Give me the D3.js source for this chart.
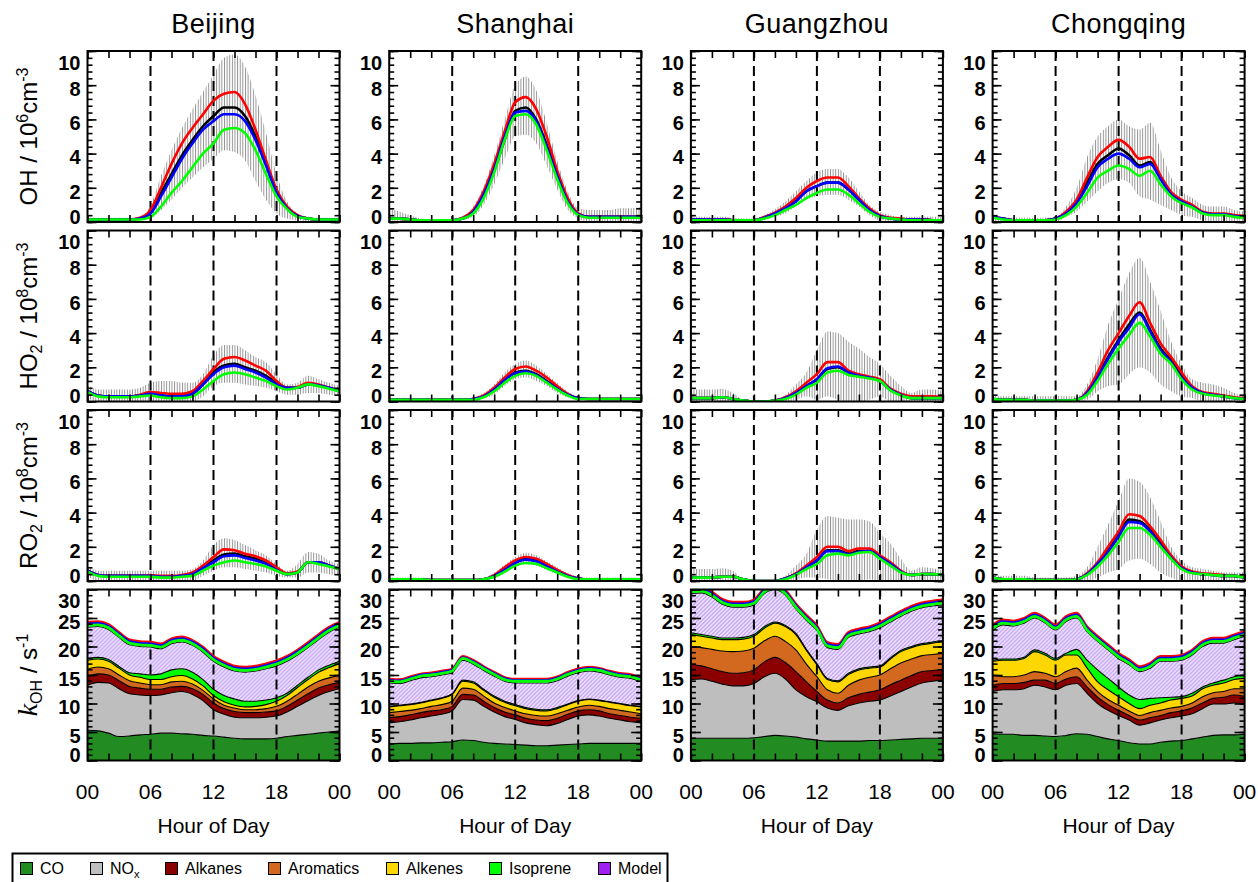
<!DOCTYPE html>
<html>
<head>
<meta charset="utf-8">
<script src="https://cdn.jsdelivr.net/npm/d3@7"></script>
<style>
  body { margin: 0; background: #fff; }
  svg { display: block; font-family: "Liberation Sans", Arial, Helvetica, sans-serif; }
</style>
</head>
<body>
<svg id="chart" width="1258" height="882"></svg>
<script>
// ---- data (city order: Beijing, Shanghai, Guangzhou, Chongqing) ----
const cities = ["Beijing", "Shanghai", "Guangzhou", "Chongqing"];
const hours = [0,1,2,3,4,5,6,7,8,9,10,11,12,13,14,15,16,17,18,19,20,21,22,23,24];
const hourTicks = [0,6,12,18,24];
const hourLabels = ["00","06","12","18","00"];

// OH, 10^6 cm-3
const ohObs = [
  [0.15,0.15,0.15,0.15,0.15,0.2,0.6,1.7,2.8,3.9,4.8,5.6,6.2,6.7,6.7,6.2,5.0,3.4,1.8,0.8,0.35,0.2,0.15,0.15,0.15],
  [0.2,0.2,0.15,0.1,0.1,0.1,0.1,0.2,0.6,1.5,3.0,4.8,6.5,6.7,6.0,4.5,2.7,1.2,0.45,0.3,0.3,0.3,0.3,0.3,0.3],
  [0.15,0.15,0.15,0.15,0.1,0.1,0.1,0.25,0.5,0.8,1.3,1.8,2.1,2.3,2.3,1.9,1.3,0.7,0.35,0.2,0.15,0.15,0.15,0.1,0.1],
  [0.3,0.2,0.1,0.1,0.1,0.1,0.2,0.5,1.2,2.3,3.4,3.9,4.3,3.9,3.3,3.5,2.6,1.7,1.2,0.9,0.55,0.45,0.45,0.35,0.3]
];
const ohRed = [
  [0.15,0.15,0.15,0.15,0.15,0.25,0.7,2.0,3.4,4.6,5.5,6.3,7.1,7.5,7.6,6.9,5.4,3.6,1.9,0.9,0.4,0.2,0.15,0.15,0.15],
  [0.2,0.2,0.15,0.1,0.1,0.1,0.1,0.25,0.7,1.8,3.4,5.3,7.0,7.3,6.6,5.0,3.0,1.4,0.5,0.3,0.3,0.3,0.3,0.3,0.3],
  [0.15,0.15,0.15,0.15,0.1,0.1,0.1,0.3,0.55,0.9,1.4,2.0,2.4,2.6,2.6,2.1,1.4,0.8,0.4,0.25,0.2,0.15,0.15,0.1,0.1],
  [0.3,0.2,0.1,0.1,0.1,0.1,0.2,0.6,1.3,2.6,3.8,4.4,4.8,4.4,3.7,3.8,2.7,1.75,1.3,1.0,0.6,0.5,0.5,0.4,0.35]
];
const ohBlue = [
  [0.15,0.15,0.15,0.15,0.15,0.2,0.5,1.5,2.6,3.7,4.6,5.4,5.9,6.3,6.3,5.9,4.8,3.3,1.7,0.8,0.35,0.2,0.15,0.15,0.15],
  [0.2,0.2,0.15,0.1,0.1,0.1,0.1,0.2,0.6,1.6,3.1,5.0,6.4,6.5,5.9,4.4,2.7,1.2,0.45,0.3,0.3,0.3,0.3,0.3,0.3],
  [0.15,0.15,0.15,0.15,0.1,0.1,0.1,0.25,0.5,0.8,1.2,1.8,2.1,2.3,2.3,1.9,1.3,0.7,0.35,0.2,0.15,0.15,0.15,0.1,0.1],
  [0.3,0.2,0.1,0.1,0.1,0.1,0.2,0.5,1.1,2.1,3.2,3.7,4.0,3.7,3.2,3.4,2.5,1.6,1.2,0.9,0.55,0.45,0.45,0.35,0.3]
];
const ohGreen = [
  [0.15,0.15,0.15,0.15,0.15,0.15,0.3,0.9,1.7,2.4,3.2,4.0,4.6,5.4,5.5,5.2,4.2,2.8,1.5,0.75,0.3,0.2,0.15,0.15,0.15],
  [0.2,0.2,0.15,0.1,0.1,0.1,0.1,0.2,0.5,1.4,2.9,4.8,6.2,6.3,5.7,4.2,2.5,1.1,0.4,0.25,0.25,0.25,0.25,0.25,0.25],
  [0.1,0.1,0.1,0.1,0.1,0.1,0.1,0.2,0.4,0.7,1.0,1.4,1.7,1.9,1.9,1.6,1.1,0.6,0.3,0.2,0.15,0.1,0.1,0.1,0.1],
  [0.25,0.15,0.1,0.1,0.1,0.1,0.15,0.4,0.9,1.7,2.6,3.0,3.3,3.1,2.7,3.0,2.2,1.5,1.1,0.85,0.5,0.4,0.4,0.3,0.25]
];
const ohLo = [
  [0.05,0.05,0.05,0.05,0.05,0.1,0.2,0.7,1.3,2.0,2.6,3.2,3.7,4.2,4.1,3.6,2.4,1.3,0.5,0.2,0.1,0.05,0.05,0.05,0.05],
  [0,0,0,0,0,0,0,0.1,0.3,1.0,2.2,3.7,5.0,5.1,4.6,3.3,1.9,0.7,0.2,0,0,0,0,0,0],
  [0,0,0,0,0,0,0,0.1,0.3,0.5,0.9,1.3,1.5,1.6,1.6,1.3,0.9,0.4,0.1,0.05,0,0,0,0,0],
  [0,0,0,0,0,0,0,0.3,0.6,1.2,1.8,2.3,2.5,2.3,1.5,1.3,1.0,0.7,0.4,0.3,0.1,0,0,0,0]
];
const ohHi = [
  [0.25,0.25,0.25,0.25,0.25,0.3,1.0,2.7,4.2,5.5,6.6,7.6,8.6,9.6,9.8,9.1,7.4,5.2,2.8,1.2,0.5,0.3,0.25,0.25,0.25],
  [0.8,0.6,0.4,0.2,0.15,0.15,0.15,0.3,0.9,2.1,3.9,6.0,8.0,8.5,7.7,5.8,3.6,1.8,0.8,0.7,0.7,0.7,0.8,0.8,0.9],
  [0.3,0.3,0.3,0.3,0.25,0.2,0.2,0.4,0.75,1.2,1.8,2.4,2.9,3.1,3.1,2.6,1.8,1.0,0.6,0.4,0.3,0.3,0.3,0.3,0.3],
  [0.4,0.25,0.25,0.25,0.25,0.25,0.3,0.9,2.0,3.8,5.0,5.6,6.0,5.6,5.4,5.8,4.2,2.6,1.8,1.4,1.0,0.9,0.9,0.7,0.6]
];

// HO2, 10^8 cm-3
const ho2Obs = [
  [0.6,0.35,0.3,0.3,0.3,0.35,0.45,0.35,0.3,0.3,0.45,1.0,1.7,2.1,2.2,2.0,1.8,1.5,1.1,0.8,0.8,1.0,0.95,0.8,0.6],
  [0.1,0.1,0.1,0.1,0.1,0.1,0.1,0.1,0.15,0.3,0.7,1.3,1.7,1.8,1.6,1.2,0.8,0.4,0.2,0.15,0.15,0.15,0.15,0.15,0.15],
  [0.2,0.2,0.2,0.25,0.15,0.05,0.0,0.0,0.05,0.2,0.5,0.9,1.3,1.9,2.0,1.7,1.5,1.4,1.2,0.7,0.4,0.2,0.2,0.2,0.2],
  [0.15,0.1,0.1,0.1,0.05,0.05,0.05,0.05,0.1,0.5,1.5,2.6,3.6,4.5,5.2,4.2,3.1,2.4,1.5,0.8,0.5,0.4,0.3,0.2,0.15]
];
const ho2Red = [
  [0.6,0.35,0.3,0.3,0.3,0.4,0.55,0.5,0.45,0.45,0.6,1.2,1.9,2.5,2.6,2.4,2.1,1.8,1.2,0.8,0.85,1.1,1.0,0.8,0.65],
  [0.1,0.1,0.1,0.1,0.1,0.1,0.1,0.1,0.15,0.35,0.8,1.4,1.9,2.05,1.8,1.4,0.9,0.45,0.2,0.15,0.15,0.15,0.15,0.15,0.15],
  [0.2,0.2,0.2,0.25,0.15,0.05,0.0,0.0,0.05,0.25,0.6,1.1,1.6,2.3,2.3,1.8,1.6,1.45,1.3,0.75,0.45,0.3,0.3,0.3,0.25],
  [0.15,0.1,0.1,0.1,0.05,0.05,0.05,0.05,0.1,0.6,1.7,3.0,4.0,5.0,5.8,4.6,3.4,2.6,1.7,0.9,0.55,0.45,0.35,0.25,0.2]
];
const ho2Blue = [
  [0.6,0.35,0.3,0.3,0.3,0.35,0.45,0.35,0.3,0.3,0.45,1.0,1.6,2.0,2.1,1.9,1.7,1.4,1.0,0.8,0.8,1.0,0.95,0.8,0.6],
  [0.1,0.1,0.1,0.1,0.1,0.1,0.1,0.1,0.15,0.3,0.7,1.25,1.65,1.75,1.55,1.15,0.75,0.4,0.2,0.15,0.15,0.15,0.15,0.15,0.15],
  [0.2,0.2,0.2,0.25,0.15,0.05,0.0,0.0,0.05,0.2,0.5,0.9,1.3,1.95,2.05,1.7,1.5,1.4,1.2,0.7,0.4,0.2,0.2,0.2,0.2],
  [0.15,0.1,0.1,0.1,0.05,0.05,0.05,0.05,0.1,0.5,1.4,2.5,3.5,4.3,5.1,4.1,3.0,2.3,1.4,0.8,0.5,0.4,0.3,0.2,0.15]
];
const ho2Green = [
  [0.55,0.3,0.25,0.25,0.25,0.3,0.35,0.25,0.2,0.2,0.3,0.7,1.2,1.6,1.7,1.6,1.4,1.2,0.9,0.7,0.8,1.0,0.9,0.75,0.6],
  [0.1,0.1,0.1,0.1,0.1,0.1,0.1,0.1,0.1,0.25,0.6,1.1,1.5,1.65,1.5,1.1,0.7,0.35,0.15,0.15,0.15,0.15,0.15,0.15,0.15],
  [0.2,0.2,0.2,0.25,0.15,0.05,0.0,0.0,0.05,0.15,0.4,0.8,1.1,1.7,1.8,1.55,1.45,1.35,1.2,0.65,0.35,0.2,0.2,0.2,0.2],
  [0.15,0.1,0.1,0.1,0.05,0.05,0.05,0.05,0.1,0.4,1.2,2.2,3.1,3.9,4.6,3.8,2.8,2.2,1.3,0.7,0.45,0.35,0.3,0.2,0.15]
];
const ho2Lo = [
  [0.2,0,0,0,0,0,0,0,0,0,0,0.3,0.9,1.1,1.1,1.0,0.9,0.8,0.6,0.4,0.4,0.5,0.5,0.4,0.3],
  [0.05,0.05,0.05,0.05,0.05,0.05,0.05,0.05,0.1,0.2,0.4,0.9,1.3,1.4,1.2,0.9,0.5,0.25,0.1,0.1,0.1,0.1,0.1,0.1,0.1],
  [0,0,0,0,0,0,0,0,0,0,0.1,0.3,0.1,0.3,0.1,0,0,0.1,0.3,0,0,0,0,0,0],
  [0,0,0,0,0,0,0,0,0,0.1,0.6,0.9,1.0,1.6,2.0,1.7,1.0,0.6,0.3,0.2,0,0,0,0,0]
];
const ho2Hi = [
  [1.0,0.7,0.7,0.7,0.7,0.8,1.1,1.2,1.2,1.1,1.1,1.6,2.7,3.3,3.3,3.0,2.6,2.3,1.6,1.0,1.1,1.5,1.3,1.1,0.9],
  [0.2,0.2,0.2,0.2,0.2,0.2,0.2,0.2,0.25,0.5,1.0,1.7,2.2,2.4,2.1,1.6,1.1,0.6,0.3,0.25,0.25,0.25,0.25,0.25,0.25],
  [0.7,0.7,0.7,0.75,0.5,0.1,0.05,0.05,0.05,0.4,1.0,1.7,3.0,4.1,4.0,3.5,3.1,2.6,2.2,1.5,0.9,0.5,0.7,0.7,0.6],
  [0.4,0.3,0.3,0.3,0.3,0.3,0.3,0.3,0.3,1.0,2.5,4.5,6.0,7.5,8.4,7.0,5.3,3.5,2.2,1.3,1.1,1.0,0.8,0.5,0.3]
];

// RO2, 10^8 cm-3
const ro2Obs = [
  [0.6,0.35,0.3,0.3,0.3,0.3,0.3,0.25,0.25,0.3,0.4,0.8,1.2,1.55,1.6,1.45,1.3,1.05,0.7,0.4,0.5,1.1,1.1,0.9,0.7],
  [0.1,0.1,0.1,0.1,0.05,0.05,0.05,0.05,0.05,0.1,0.3,0.7,1.1,1.3,1.2,0.9,0.6,0.3,0.15,0.1,0.1,0.1,0.1,0.1,0.1],
  [0.2,0.2,0.2,0.25,0.25,0.1,0.0,0.0,0.0,0.15,0.4,0.8,1.2,1.8,1.8,1.6,1.75,1.75,1.4,1.0,0.55,0.35,0.4,0.4,0.35],
  [0.2,0.1,0.1,0.1,0.05,0.05,0.05,0.05,0.1,0.4,1.0,1.8,2.7,3.6,3.5,3.0,2.2,1.4,0.8,0.5,0.4,0.35,0.3,0.3,0.2]
];
const ro2Red = [
  [0.6,0.35,0.3,0.3,0.3,0.3,0.35,0.3,0.3,0.35,0.5,0.9,1.4,1.85,1.8,1.6,1.45,1.2,0.8,0.45,0.55,1.1,1.1,0.9,0.7],
  [0.1,0.1,0.1,0.1,0.05,0.05,0.05,0.05,0.05,0.1,0.35,0.8,1.2,1.4,1.3,1.0,0.65,0.35,0.15,0.1,0.1,0.1,0.1,0.1,0.1],
  [0.2,0.2,0.2,0.25,0.25,0.1,0.0,0.0,0.0,0.15,0.45,0.9,1.4,2.0,2.0,1.75,1.9,1.9,1.5,1.1,0.6,0.35,0.4,0.4,0.35],
  [0.2,0.1,0.1,0.1,0.05,0.05,0.05,0.05,0.1,0.45,1.1,2.0,2.9,3.9,3.8,3.2,2.4,1.5,0.85,0.55,0.45,0.4,0.35,0.3,0.25]
];
const ro2Blue = [
  [0.6,0.35,0.3,0.3,0.3,0.3,0.3,0.25,0.25,0.3,0.4,0.75,1.1,1.45,1.5,1.35,1.2,1.0,0.65,0.4,0.5,1.1,1.1,0.9,0.7],
  [0.1,0.1,0.1,0.1,0.05,0.05,0.05,0.05,0.05,0.1,0.3,0.65,1.05,1.25,1.15,0.85,0.55,0.3,0.15,0.1,0.1,0.1,0.1,0.1,0.1],
  [0.2,0.2,0.2,0.25,0.25,0.1,0.0,0.0,0.0,0.15,0.4,0.8,1.2,1.75,1.75,1.55,1.7,1.75,1.4,1.0,0.55,0.35,0.4,0.4,0.35],
  [0.2,0.1,0.1,0.1,0.05,0.05,0.05,0.05,0.1,0.4,1.0,1.7,2.6,3.45,3.4,2.9,2.1,1.35,0.75,0.5,0.4,0.35,0.3,0.3,0.2]
];
const ro2Green = [
  [0.55,0.3,0.25,0.25,0.25,0.25,0.25,0.2,0.2,0.25,0.3,0.6,0.9,1.1,1.2,1.1,1.0,0.85,0.6,0.4,0.5,1.1,1.0,0.85,0.7],
  [0.1,0.1,0.1,0.1,0.05,0.05,0.05,0.05,0.05,0.1,0.25,0.55,0.9,1.05,1.0,0.75,0.5,0.25,0.1,0.1,0.1,0.1,0.1,0.1,0.1],
  [0.2,0.2,0.2,0.25,0.25,0.1,0.0,0.0,0.0,0.1,0.35,0.7,1.0,1.5,1.6,1.5,1.65,1.7,1.3,0.9,0.5,0.35,0.4,0.4,0.35],
  [0.2,0.1,0.1,0.1,0.05,0.05,0.05,0.05,0.1,0.35,0.85,1.5,2.3,3.1,3.1,2.7,2.0,1.3,0.7,0.45,0.4,0.35,0.3,0.3,0.2]
];
const ro2Lo = [
  [0.3,0,0,0,0,0,0,0,0,0,0,0.3,0.6,0.8,0.8,0.7,0.6,0.5,0.3,0.2,0.2,0.5,0.5,0.4,0.3],
  [0.05,0.05,0.05,0.05,0,0,0,0,0,0.05,0.15,0.45,0.8,1.0,0.9,0.65,0.4,0.2,0.1,0.05,0.05,0.05,0.05,0.05,0.05],
  [0,0,0,0,0,0,0,0,0,0,0.1,0.2,0.2,0.1,0,0,0,0.1,0,0,0,0,0,0,0],
  [0,0,0,0,0,0,0,0,0,0,0.2,0.5,0.7,1.2,1.3,1.0,0.5,0.2,0,0,0,0,0,0,0]
];
const ro2Hi = [
  [0.9,0.6,0.6,0.6,0.6,0.6,0.6,0.6,0.6,0.6,0.7,1.2,2.1,2.5,2.4,2.1,1.8,1.5,1.0,0.6,1.0,1.7,1.6,1.2,1.0],
  [0.2,0.2,0.2,0.2,0.15,0.15,0.15,0.15,0.15,0.2,0.5,0.95,1.4,1.65,1.5,1.15,0.8,0.45,0.25,0.2,0.2,0.2,0.2,0.2,0.2],
  [0.7,0.7,0.7,0.75,0.6,0.1,0.05,0.05,0.05,0.3,0.9,1.6,3.0,3.8,3.7,3.6,3.6,3.5,2.8,2.2,1.3,0.6,0.8,0.75,0.6],
  [0.4,0.3,0.3,0.3,0.2,0.2,0.2,0.2,0.3,0.8,2.0,3.3,4.7,6.0,5.8,4.9,3.5,2.0,1.2,0.8,0.7,0.6,0.5,0.5,0.5]
];

// kOH contributions, s-1
const kCO = [
  [5.3,5.2,4.8,4.2,4.3,4.5,4.6,4.8,4.8,4.7,4.6,4.4,4.3,4.1,3.9,3.8,3.8,3.8,3.9,4.2,4.4,4.6,4.8,5.0,5.2],
  [2.9,3.0,3.0,3.1,3.1,3.2,3.3,3.6,3.5,3.2,3.0,2.9,2.8,2.7,2.6,2.6,2.7,2.8,2.9,3.0,3.0,3.0,3.0,3.0,3.0],
  [3.9,3.9,3.9,3.9,3.9,3.9,4.0,4.2,4.4,4.3,4.1,3.8,3.6,3.4,3.4,3.4,3.4,3.5,3.5,3.6,3.7,3.8,3.9,3.9,3.9],
  [4.7,4.6,4.6,4.4,4.4,4.3,4.2,4.4,4.7,4.6,4.2,3.8,3.5,3.1,2.9,2.9,3.2,3.4,3.5,3.8,4.1,4.4,4.5,4.5,4.6]
];
const kNOx = [
  [7.9,8.5,8.8,8.4,7.4,7.0,6.8,6.7,7.1,7.4,7.0,6.1,4.6,4.0,3.7,3.7,3.7,3.8,3.9,4.3,5.1,5.9,6.6,7.1,7.4],
  [3.7,3.8,4.1,4.4,4.7,4.9,5.4,7.1,7.1,6.3,5.5,4.8,4.4,3.9,3.7,3.5,3.8,4.4,4.9,5.0,4.8,4.4,4.1,3.8,3.6],
  [10.3,10.4,10.0,9.5,9.2,9.2,9.5,10.5,10.9,10.0,8.3,7.4,6.7,5.8,5.4,6.2,6.7,6.9,7.1,7.7,8.4,9.1,9.7,10.0,10.2],
  [7.4,7.8,7.8,8.2,8.8,8.6,8.2,8.8,8.8,7.2,5.8,5.0,4.4,4.0,3.3,3.7,3.9,4.1,4.3,4.4,5.0,5.5,5.4,5.6,5.4]
];
const kAlkanes = [
  [1.5,1.5,1.4,1.4,1.3,1.2,1.1,1.0,1.0,0.9,1.0,1.1,1.2,1.0,1.0,0.9,0.9,0.9,0.9,1.0,1.1,1.2,1.3,1.2,1.1],
  [0.9,0.9,0.9,0.9,0.9,0.8,0.8,0.9,0.9,0.9,0.8,0.8,0.8,0.8,0.8,0.9,0.9,0.9,0.9,0.9,0.9,0.8,0.8,0.8,0.8],
  [2.7,2.3,2.2,2.2,2.2,2.3,2.4,2.6,2.8,2.9,3.2,2.6,1.8,1.4,1.3,1.4,1.5,1.6,1.8,2.0,2.0,2.0,2.0,1.9,1.9],
  [1.1,1.1,1.1,1.1,0.9,1.2,1.1,1.1,1.2,1.1,1.1,1.0,0.9,0.8,0.9,0.9,0.8,0.9,0.9,1.0,1.0,1.0,1.2,1.4,1.3]
];
const kAromatics = [
  [1.3,1.2,1.1,1.0,1.0,0.9,0.8,0.8,0.9,0.9,0.8,0.7,0.7,0.6,0.6,0.5,0.5,0.6,0.8,0.9,1.0,1.2,1.2,1.2,1.2],
  [0.9,0.9,0.8,0.7,0.8,0.9,0.9,1.1,1.0,0.9,0.8,0.8,0.7,0.8,0.8,0.8,0.8,0.7,0.7,0.8,0.8,0.9,0.9,0.9,0.8],
  [3.1,3.2,3.4,3.6,3.8,3.8,3.8,3.7,3.7,3.7,3.8,3.1,2.6,1.8,1.7,2.2,2.5,2.6,2.6,2.8,3.0,2.9,2.8,2.8,2.8],
  [1.8,1.2,1.2,1.3,1.5,1.2,1.2,1.3,1.5,1.2,1.0,0.9,0.9,0.8,0.8,0.9,0.9,0.8,0.8,0.9,1.1,1.0,1.0,1.1,1.3]
];
const kAlkenes = [
  [1.6,1.4,1.3,1.2,1.0,1.0,0.9,0.9,0.9,1.0,0.9,0.8,0.6,0.6,0.5,0.5,0.6,0.7,0.9,1.0,1.2,1.3,1.6,1.8,2.1],
  [1.0,1.0,1.0,1.0,1.0,1.1,1.2,1.2,1.1,1.0,1.0,0.9,0.9,0.9,0.9,0.9,0.9,1.0,1.0,1.0,1.0,1.1,1.1,1.1,1.2],
  [2.1,2.0,2.0,2.0,2.1,2.1,2.1,2.2,2.3,2.6,2.7,2.4,2.1,1.8,2.0,1.9,1.8,1.6,1.4,1.7,2.0,2.0,1.9,2.0,2.0],
  [2.4,2.9,2.9,2.9,3.5,3.2,2.9,2.9,2.3,2.1,1.7,1.7,1.5,1.3,1.2,1.3,1.3,1.4,1.4,1.2,1.4,1.3,1.5,1.6,1.8]
];
const kIsoprene = [
  [0.3,0.3,0.3,0.3,0.4,0.6,0.8,1.0,1.2,1.2,1.2,1.1,1.1,1.1,1.1,1.0,0.9,0.8,0.6,0.4,0.4,0.4,0.4,0.4,0.4],
  [0.1,0.1,0.1,0.1,0.1,0.1,0.1,0.2,0.2,0.2,0.2,0.2,0.2,0.2,0.2,0.2,0.2,0.1,0.1,0.1,0.1,0.1,0.1,0.1,0.1],
  [0.3,0.3,0.3,0.3,0.3,0.3,0.3,0.3,0.2,0.2,0.2,0.2,0.2,0.2,0.2,0.2,0.2,0.2,0.2,0.2,0.2,0.2,0.2,0.2,0.2],
  [0.2,0.2,0.2,0.2,0.3,0.3,0.3,0.3,1.0,1.4,2.1,2.0,1.7,1.5,1.6,1.2,0.9,0.5,0.3,0.5,0.3,0.4,0.5,0.5,0.6]
];
const kModel = [
  [5.5,5.4,5.3,5.1,4.9,4.8,4.9,4.4,4.6,4.7,4.7,4.8,4.9,5.0,4.9,5.1,5.3,5.5,5.6,5.6,5.3,5.2,5.3,5.8,6.0],
  [4.1,3.8,4.1,4.3,4.1,4.0,3.7,3.5,3.1,3.3,3.5,3.5,3.8,4.3,4.6,4.7,4.7,4.9,4.9,4.9,4.9,4.7,4.6,4.7,4.3],
  [6.9,7.3,6.9,5.9,5.4,5.3,5.2,5.8,5.7,5.3,4.3,5.1,5.8,5.4,5.5,6.3,6.1,6.2,6.7,6.3,6.0,6.2,6.3,6.3,6.3],
  [5.3,6.0,5.8,6.0,5.6,5.3,5.0,5.6,5.5,5.0,5.0,5.0,5.0,5.3,4.9,5.3,6.4,6.3,6.4,6.7,7.1,7.0,6.5,6.5,6.8]
];
// total kOH lines on top of the stack
const kGreen = [
  [23.7,23.8,23.3,21.9,20.6,20.3,20.2,19.9,20.8,21.1,20.5,19.3,17.7,16.7,16.0,15.8,16.0,16.4,16.9,17.7,18.8,20.1,21.5,22.8,23.7],
  [13.9,13.8,14.3,14.8,15.0,15.3,15.7,17.9,17.2,16.1,15.1,14.2,13.9,13.9,13.9,13.9,14.3,15.1,15.7,16.0,15.8,15.3,14.9,14.7,14.1],
  [29.6,29.7,29.0,27.7,27.2,27.2,27.6,29.6,30.3,29.3,26.9,24.9,23.1,20.1,19.8,21.9,22.5,22.9,23.6,24.6,25.6,26.5,27.1,27.4,27.6],
  [23.2,24.1,23.9,24.4,25.3,24.4,23.2,24.7,25.3,22.9,21.2,19.7,18.2,17.1,15.9,16.5,17.7,17.7,17.9,18.8,20.3,20.9,20.9,21.5,22.1]
];
const kBlue = [
  [24.0,24.1,23.6,22.2,20.9,20.6,20.5,20.2,21.1,21.4,20.8,19.6,18.0,17.0,16.3,16.1,16.3,16.7,17.2,18.0,19.1,20.4,21.8,23.1,24.0],
  [14.1,14.0,14.5,15.0,15.2,15.5,15.9,18.1,17.4,16.3,15.3,14.4,14.1,14.1,14.1,14.1,14.5,15.3,15.9,16.2,16.0,15.5,15.1,14.9,14.3],
  [29.9,30.0,29.3,28.0,27.5,27.5,27.9,29.9,30.6,29.6,27.2,25.2,23.4,20.4,20.1,22.2,22.8,23.2,23.9,24.9,25.9,26.8,27.4,27.7,27.9],
  [23.5,24.4,24.2,24.7,25.6,24.7,23.5,25.0,25.6,23.2,21.5,20.0,18.5,17.4,16.2,16.8,18.0,18.0,18.2,19.1,20.6,21.2,21.2,21.8,22.4]
];
const kRed = [
  [24.3,24.4,23.9,22.5,21.2,20.9,20.8,20.5,21.4,21.7,21.1,19.9,18.3,17.3,16.6,16.4,16.6,17.0,17.5,18.3,19.4,20.7,22.1,23.4,24.3],
  [14.3,14.2,14.7,15.2,15.4,15.7,16.1,18.3,17.6,16.5,15.5,14.6,14.3,14.3,14.3,14.3,14.7,15.5,16.1,16.4,16.2,15.7,15.3,15.1,14.5],
  [30.2,30.3,29.6,28.3,27.8,27.8,28.2,30.2,30.9,29.9,27.5,25.5,23.7,20.7,20.4,22.5,23.1,23.5,24.2,25.2,26.2,27.1,27.7,28.0,28.2],
  [23.8,24.7,24.5,25.0,25.9,25.0,23.8,25.3,25.9,23.5,21.8,20.3,18.8,17.7,16.5,17.1,18.3,18.3,18.5,19.4,20.9,21.5,21.5,22.1,22.7]
];

const speciesKeys = ["CO", "NOx", "Alkanes", "Aromatics", "Alkenes", "Isoprene", "Model"];
const speciesData = [kCO, kNOx, kAlkanes, kAromatics, kAlkenes, kIsoprene, kModel];
const speciesColors = ["#228b22", "#bebebe", "#8b0000", "#d2691e", "#ffd700", "#00ff00", "#a020f0"];

// ---- layout ----
const svg = d3.select("#chart");
const W = 252, H = 171, X0 = 87.5, Y0 = 51, DX = 301.7, DY = 179.5;
const FONT = '"Liberation Sans", Arial, Helvetica, sans-serif';

const x = d3.scaleLinear().domain([0, 24]).range([0, W]);
const yRad = d3.scaleLinear().domain([0, 10]).range([H, 0]);
const yK = d3.scaleLinear().domain([0, 30]).range([H, 0]);

const defs = svg.append("defs");
// dense vertical error bars (one per quarter hour)
const barPat = defs.append("pattern").attr("id", "bars")
  .attr("patternUnits", "userSpaceOnUse")
  .attr("width", x(0.25) - x(0)).attr("height", 20);
barPat.append("line").attr("x1", 0.5).attr("x2", 0.5).attr("y1", 0).attr("y2", 20)
  .attr("stroke", "#8a8a8a").attr("stroke-width", 0.9);
// hatch for the Model layer
const hatch = defs.append("pattern").attr("id", "hatch")
  .attr("patternUnits", "userSpaceOnUse").attr("width", 4).attr("height", 4);
hatch.append("rect").attr("width", 4).attr("height", 4).attr("fill", "#bb92f4");
hatch.append("path").attr("d", "M-1,1L1,-1M0,4L4,0M3,5L5,3")
  .attr("stroke", "#fff").attr("stroke-width", 1.3);
defs.append("clipPath").attr("id", "clip").append("rect").attr("width", W).attr("height", H);

const radRows = [
  { obs: ohObs, red: ohRed, blue: ohBlue, green: ohGreen, lo: ohLo, hi: ohHi },
  { obs: ho2Obs, red: ho2Red, blue: ho2Blue, green: ho2Green, lo: ho2Lo, hi: ho2Hi },
  { obs: ro2Obs, red: ro2Red, blue: ro2Blue, green: ro2Green, lo: ro2Lo, hi: ro2Hi }
];

function pts(arr) { return hours.map((h, i) => [h, arr[i]]); }

function frame(g, y, major, minor, majLen) {
  const xt = [0,2,4,6,8,10,12,14,16,18,20,22,24];
  const style = sel => {
    sel.select(".domain").remove();
    sel.selectAll("line").attr("stroke", "#000").attr("stroke-width", 1.6);
  };
  g.append("g").attr("transform", `translate(0,${H})`)
    .call(d3.axisBottom(x).tickValues(xt).tickSize(-7).tickFormat("")).call(style);
  g.append("g").call(d3.axisTop(x).tickValues(xt).tickSize(-7).tickFormat("")).call(style);
  g.append("g").call(d3.axisLeft(y).tickValues(minor).tickSize(-5).tickFormat("")).call(style);
  g.append("g").attr("transform", `translate(${W},0)`)
    .call(d3.axisRight(y).tickValues(minor).tickSize(-5).tickFormat("")).call(style);
  g.append("g").attr("transform", `translate(${W},0)`)
    .call(d3.axisRight(y).tickValues(major).tickSize(-majLen).tickFormat("")).call(style);
  const top = d3.max(major), bottom = d3.min(major);
  g.append("g").call(d3.axisLeft(y).tickValues(major).tickSize(-majLen).tickPadding(7).tickFormat(d3.format("d")))
    .call(style)
    .call(s => s.attr("font-family", null).attr("font-size", null))
    .call(s => s.selectAll("text")
      .attr("font-family", FONT).attr("font-size", 20).attr("font-weight", "bold")
      .attr("fill", "#000").attr("dy", "0.36em")
      .attr("y", d => d === top ? 11 : d === bottom ? -6 : 3));
  g.append("rect").attr("width", W).attr("height", H)
    .attr("fill", "none").attr("stroke", "#000").attr("stroke-width", 2);
}

function dashes(g) {
  g.selectAll(null).data([6, 12, 18]).join("line")
    .attr("x1", d => x(d)).attr("x2", d => x(d)).attr("y1", 0).attr("y2", H)
    .attr("stroke", "#000").attr("stroke-width", 2).attr("stroke-dasharray", "10,5");
}

const minorRad = d3.range(0, 10.01, 0.4).map(v => +v.toFixed(1));
const majorRad = [0, 2, 4, 6, 8, 10];
const minorK = d3.range(0, 31, 1);
const majorK = [0, 5, 10, 15, 20, 25, 30];

cities.forEach((city, c) => {
  const px = X0 + c * DX;
  svg.append("text").attr("x", px + W / 2).attr("y", 33)
    .attr("text-anchor", "middle").attr("font-size", 27).attr("letter-spacing", 0.5)
    .text(city);

  // radical rows
  radRows.forEach((row, r) => {
    const g = svg.append("g").attr("transform", `translate(${px},${Y0 + r * DY})`);
    const inner = g.append("g").attr("clip-path", "url(#clip)");
    const err = hours.map((h, i) => [h, row.lo[c][i], row.hi[c][i]]);
    inner.append("path").datum(err)
      .attr("fill", "url(#bars)")
      .attr("d", d3.area().x(d => x(d[0])).y0(d => yRad(d[1])).y1(d => yRad(d[2])).curve(d3.curveMonotoneX));
    dashes(inner);
    const line = d3.line().x(d => x(d[0])).y(d => yRad(d[1])).curve(d3.curveMonotoneX);
    [["obs", "#000"], ["red", "#ff0000"], ["blue", "#0000ff"], ["green", "#00ff00"]].forEach(([k, col]) => {
      inner.append("path").datum(pts(row[k][c]))
        .attr("fill", "none").attr("stroke", col).attr("stroke-width", 2.6)
        .attr("stroke-linejoin", "round").attr("d", line);
    });
    frame(g, yRad, majorRad, minorRad, 9);
  });

  // kOH row
  const g = svg.append("g").attr("transform", `translate(${px},${Y0 + 3 * DY})`);
  const inner = g.append("g").attr("clip-path", "url(#clip)");
  const rows = hours.map((h, i) => {
    const o = { hour: h };
    speciesKeys.forEach((k, s) => { o[k] = speciesData[s][c][i]; });
    return o;
  });
  const series = d3.stack().keys(speciesKeys)(rows);
  const area = d3.area().x(d => x(d.data.hour)).y0(d => yK(d[0])).y1(d => yK(d[1])).curve(d3.curveMonotoneX);
  const topLine = d3.line().x(d => x(d.data.hour)).y(d => yK(d[1])).curve(d3.curveMonotoneX);
  inner.selectAll(null).data(series).join("path")
    .attr("fill", (d, i) => speciesKeys[i] === "Model" ? "url(#hatch)" : speciesColors[i])
    .attr("d", area);
  inner.selectAll(null).data(series).join("path")
    .attr("fill", "none").attr("stroke", "#000").attr("stroke-width", 1.1)
    .attr("d", topLine);
  dashes(inner);
  const kLine = d3.line().x(d => x(d[0])).y(d => yK(d[1])).curve(d3.curveMonotoneX);
  [[kRed, "#ff0000", 2.4], [kBlue, "#0000ff", 2.4], [kGreen, "#00ff00", 2.8]].forEach(([arr, col, w]) => {
    inner.append("path").datum(pts(arr[c]))
      .attr("fill", "none").attr("stroke", col).attr("stroke-width", w).attr("d", kLine);
  });
  frame(g, yK, majorK, minorK, 10);

  // hour labels
  g.selectAll(null).data(hourTicks).join("text")
    .attr("x", d => x(d)).attr("y", H + 38.5)
    .attr("text-anchor", "middle").attr("font-size", 21)
    .text((d, i) => hourLabels[i]);
  g.append("text").attr("x", W / 2).attr("y", H + 72.5)
    .attr("text-anchor", "middle").attr("font-size", 21).text("Hour of Day");
});

// y-axis titles
function yTitle(cy, parts) {
  const t = svg.append("text").attr("transform", `translate(37,${cy}) rotate(-90)`)
    .attr("text-anchor", "middle").attr("font-size", 24);
  let shift = 0;
  parts.forEach(([txt, kind]) => {
    const target = kind === "sup" ? -9 : kind === "sub" ? 5 : 0;
    const ts = t.append("tspan").text(txt).attr("dy", target - shift);
    if (kind === "sup" || kind === "sub") ts.attr("font-size", 16);
    if (kind === "it") ts.attr("font-style", "italic").attr("font-family", '"Liberation Serif", "Times New Roman", serif').attr("font-size", 28);
    shift = target;
  });
}
yTitle(Y0 + H / 2, [["OH / 10"], ["6", "sup"], ["cm"], ["-3", "sup"]]);
yTitle(Y0 + DY + H / 2, [["HO"], ["2", "sub"], [" / 10"], ["8", "sup"], ["cm"], ["-3", "sup"]]);
yTitle(Y0 + 2 * DY + H / 2, [["RO"], ["2", "sub"], [" / 10"], ["8", "sup"], ["cm"], ["-3", "sup"]]);
yTitle(Y0 + 3 * DY + H / 2, [["k", "it"], ["OH", "sub"], [" / s"], ["-1", "sup"]]);

// legend
const legend = svg.append("g");
legend.append("rect").attr("x", 12.5).attr("y", 853.5).attr("width", 655).attr("height", 40)
  .attr("fill", "#fff").attr("stroke", "#000").attr("stroke-width", 2);
const legendX = [20, 90, 165, 268, 386, 489, 598];
speciesKeys.forEach((k, i) => {
  legend.append("rect").attr("x", legendX[i] + 0.5).attr("y", 862.5).attr("width", 12).attr("height", 12)
    .attr("fill", speciesColors[i]).attr("stroke", "#000").attr("stroke-width", 1);
  const t = legend.append("text").attr("x", legendX[i] + 20).attr("y", 874).attr("font-size", 16);
  if (k === "NOx") {
    t.append("tspan").text("NO");
    t.append("tspan").text("x").attr("font-size", 11).attr("dy", 4);
  } else {
    t.text(k);
  }
});
</script>
</body>
</html>
